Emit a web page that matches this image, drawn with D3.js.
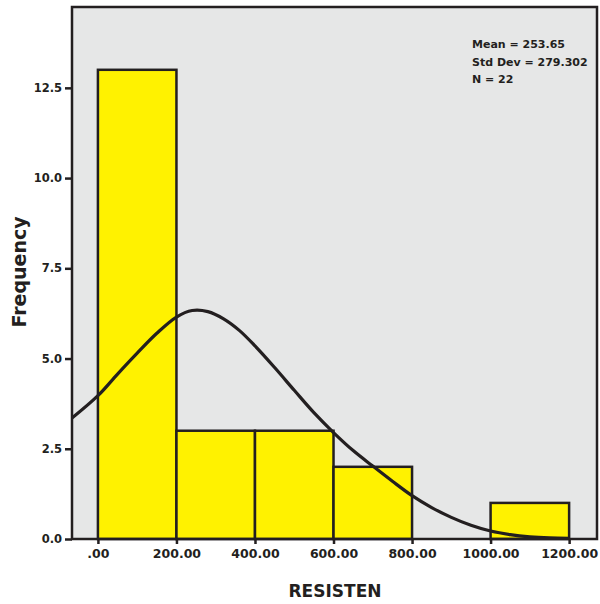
<!DOCTYPE html>
<html><head><meta charset="utf-8">
<script src="https://cdn.jsdelivr.net/npm/d3@7"></script>
<style>body{margin:0;background:#fff;}svg{display:block;font-family:"DejaVu Sans",sans-serif;}</style>
</head><body><svg id="c" width="600" height="604"></svg>
<script>
const binStarts = [0, 200, 400, 600, 800, 1000];
const binWidth = 200;
const counts = [13, 3, 3, 2, 0, 1];
const xTicks = [0, 200, 400, 600, 800, 1000, 1200];
const xTickLabels = [".00", "200.00", "400.00", "600.00", "800.00", "1000.00", "1200.00"];
const yTicks = [0, 2.5, 5, 7.5, 10, 12.5];
const yTickLabels = ["0.0", "2.5", "5.0", "7.5", "10.0", "12.5"];
const statsLines = ["Mean = 253.65", "Std Dev = 279.302", "N = 22"];
// normal curve: RESISTEN value, frequency
const curveX = [-66, 0, 50, 100, 150, 200, 240, 280, 320, 360, 400, 450, 500, 550, 600, 650, 700, 750, 800, 850, 900, 950, 1000, 1050, 1100, 1150, 1200];
const curveY = [3.35, 3.97, 4.57, 5.15, 5.7, 6.15, 6.33, 6.3, 6.1, 5.78, 5.35, 4.75, 4.12, 3.5, 2.95, 2.45, 2.02, 1.6, 1.2, 0.87, 0.6, 0.38, 0.22, 0.12, 0.06, 0.03, 0.02];

const svg = d3.select("#c");
const L = 72, R = 597, T = 7, B = 539;
const x = d3.scaleLinear().domain([-66, 1271]).range([L, R]);
const y = d3.scaleLinear().domain([0, 14.74]).range([B, T]);
const ink = "#231f20";
const bold = "bold";

svg.append("rect").attr("x", L).attr("y", T).attr("width", R - L).attr("height", B - T)
  .attr("fill", "#e6e7e7");

svg.append("g").selectAll("rect").data(binStarts.map((s, i) => ({s, c: counts[i]})).filter(d => d.c > 0))
  .join("rect")
  .attr("x", d => x(d.s)).attr("width", d => x(d.s + binWidth) - x(d.s))
  .attr("y", d => y(d.c)).attr("height", d => y(0) - y(d.c))
  .attr("fill", "#fff200").attr("stroke", ink).attr("stroke-width", 2.5);

svg.append("path").datum(curveX.map((v, i) => [v, curveY[i]]))
  .attr("d", d3.line().x(d => x(d[0])).y(d => y(d[1])).curve(d3.curveCatmullRom))
  .attr("fill", "none").attr("stroke", ink).attr("stroke-width", 3.2);

svg.append("rect").attr("x", L).attr("y", T).attr("width", R - L).attr("height", B - T)
  .attr("fill", "none").attr("stroke", ink).attr("stroke-width", 2.5);

const yAxis = svg.append("g").attr("transform", `translate(${L},0)`)
  .call(d3.axisLeft(y).tickValues(yTicks).tickFormat((d, i) => yTickLabels[i]).tickSize(7).tickPadding(3));
yAxis.select(".domain").remove();
yAxis.selectAll("line").attr("stroke", ink).attr("stroke-width", 2.5);
yAxis.selectAll("text").attr("fill", ink).attr("font-size", 11.5).attr("font-weight", bold)
  .attr("font-family", "'DejaVu Sans',sans-serif");

const xAxis = svg.append("g").attr("transform", `translate(0,${B})`)
  .call(d3.axisBottom(x).tickValues(xTicks).tickFormat((d, i) => xTickLabels[i]).tickSize(5).tickPadding(5));
xAxis.select(".domain").remove();
xAxis.selectAll("line").attr("stroke", ink).attr("stroke-width", 2.5);
xAxis.selectAll("text").attr("fill", ink).attr("font-size", 12.5).attr("font-weight", bold)
  .attr("font-family", "'DejaVu Sans',sans-serif");

svg.append("text").attr("x", 335).attr("y", 597).attr("text-anchor", "middle")
  .attr("font-size", 17).attr("font-weight", bold).attr("fill", ink).text("RESISTEN");
svg.append("text").attr("transform", "translate(26,272) rotate(-90)").attr("text-anchor", "middle")
  .attr("font-size", 19).attr("font-weight", bold).attr("fill", ink).text("Frequency");

svg.append("g").selectAll("text").data(statsLines).join("text")
  .attr("x", 472).attr("y", (d, i) => 48 + i * 17.5)
  .attr("font-size", 11).attr("font-weight", bold).attr("fill", ink).text(d => d);
</script></body></html>
